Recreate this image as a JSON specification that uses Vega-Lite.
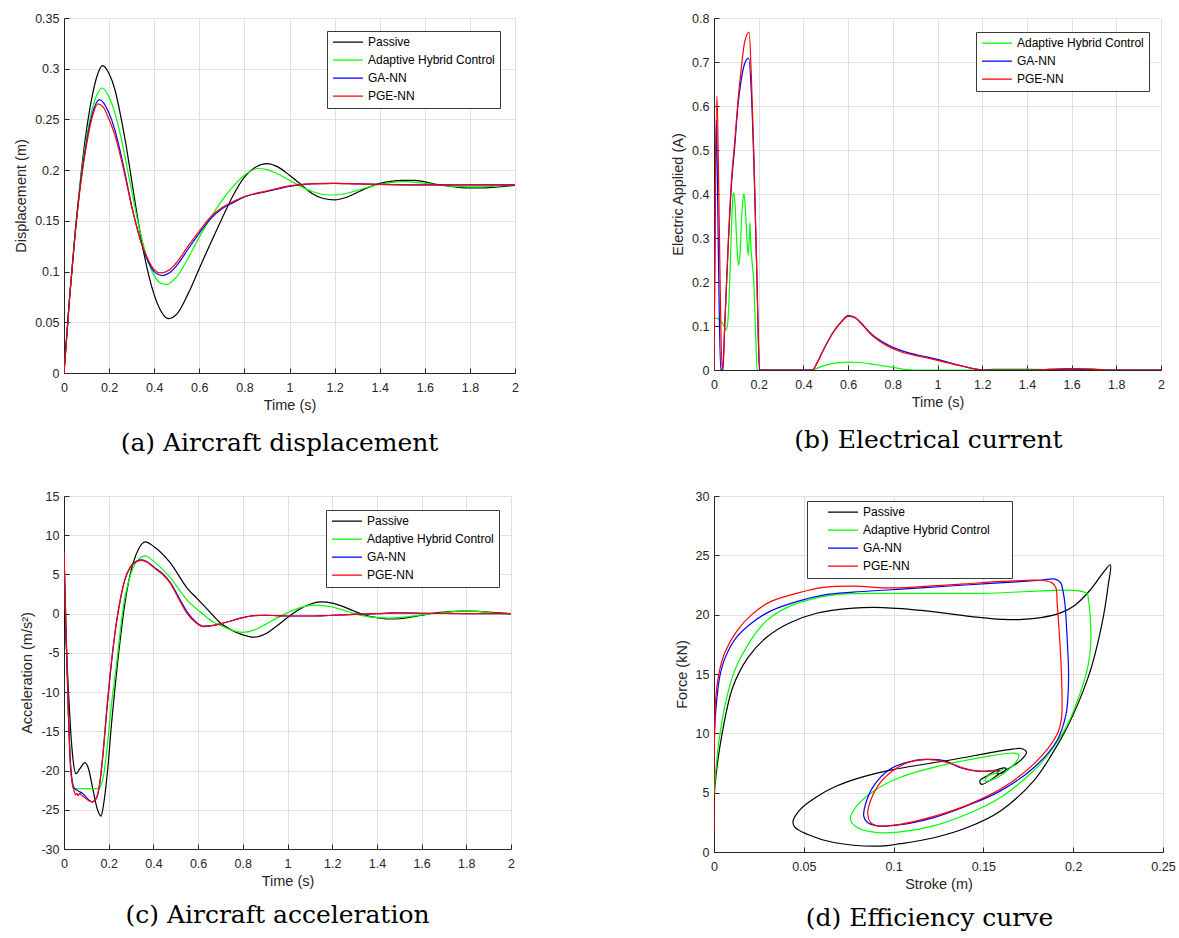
{
"$schema": "https://vega.github.io/schema/vega-lite/v6.json",
"autosize": {"type": "none"},
"padding": {"left": 64, "top": 18, "right": 1115, "bottom": 920},
"background": "white",
"bounds": "flush",
"columns": 2,
"spacing": {"column": 199, "row": 123},
"config": {
  "font": "Liberation Sans",
  "view": {"stroke": null},
  "axis": {"labelFont": "Liberation Sans", "labelFontSize": 12.5, "labelColor": "#262626", "titleFont": "Liberation Sans", "titleFontSize": 14.5, "titleFontWeight": "normal", "titleColor": "#262626", "domainColor": "#262626", "tickColor": "#262626", "tickSize": -5, "gridColor": "#e0e0e0", "grid": true, "labelFlush": false, "labelOverlap": false, "labelExpr": "toString(datum.value)"},
  "axisX": {"labelPadding": 13, "titlePadding": 5},
  "axisY": {"labelPadding": 10, "titlePadding": 6},
  "legend": {"orient": "none", "symbolType": "stroke", "symbolSize": 900, "symbolStrokeWidth": 1.2, "labelFont": "Liberation Sans", "labelFontSize": 12, "labelColor": "#000000", "padding": 5, "rowPadding": 5, "clipHeight": 12.3, "strokeColor": "#3a3a3a", "fillColor": "#ffffff", "labelOffset": 4, "labelLimit": 300},
  "title": {"font": "DejaVu Serif", "fontSize": 25, "fontWeight": "normal", "color": "#000000", "orient": "bottom", "anchor": "middle", "frame": "group", "offset": 12}
},
"resolve": {"scale": {"color": "independent"}, "legend": {"color": "independent"}},
"concat": [
{
  "width": 451, "height": 355,
  "title": {"text": "(a) Aircraft displacement", "dx": -10, "offset": 19, "orient": "bottom", "frame": "group"},
  "data": {"name": "a"},
  "mark": {"type": "line", "interpolate": "monotone", "strokeWidth": 1.2, "clip": true},
  "encoding": {
    "x": {"field": "t", "type": "quantitative", "scale": {"domain": [0, 2], "nice": false, "zero": false}, "axis": {"title": "Time (s)", "values": [0, 0.2, 0.4, 0.6, 0.8, 1, 1.2, 1.4, 1.6, 1.8, 2]}},
    "y": {"field": "v", "type": "quantitative", "scale": {"domain": [0, 0.35], "nice": false}, "axis": {"title": "Displacement (m)", "values": [0, 0.05, 0.1, 0.15, 0.2, 0.25, 0.3, 0.35]}},
    "color": {"field": "s", "type": "nominal", "scale": {"domain": ["Passive", "Adaptive Hybrid Control", "GA-NN", "PGE-NN"], "range": ["#000000", "#00ff00", "#0000ff", "#ff0000"]}, "legend": {"title": null, "legendX": 263, "legendY": 13}},
    "order": {"value": null}
  }
},
{
  "width": 447, "height": 352,
  "title": {"text": "(b) Electrical current", "dx": -9, "offset": 19, "orient": "bottom", "frame": "group"},
  "data": {"name": "b"},
  "mark": {"type": "line", "interpolate": "monotone", "strokeWidth": 1.2, "clip": true},
  "encoding": {
    "x": {"field": "t", "type": "quantitative", "scale": {"domain": [0, 2], "nice": false, "zero": false}, "axis": {"title": "Time (s)", "values": [0, 0.2, 0.4, 0.6, 0.8, 1, 1.2, 1.4, 1.6, 1.8, 2]}},
    "y": {"field": "v", "type": "quantitative", "scale": {"domain": [0, 0.8], "nice": false}, "axis": {"title": "Electric Applied (A)", "values": [0, 0.1, 0.2, 0.3, 0.4, 0.5, 0.6, 0.7, 0.8]}},
    "color": {"field": "s", "type": "nominal", "scale": {"domain": ["Adaptive Hybrid Control", "GA-NN", "PGE-NN"], "range": ["#00ff00", "#0000ff", "#ff0000"]}, "legend": {"title": null, "legendX": 262, "legendY": 14}},
    "order": {"value": null}
  }
},
{
  "width": 447, "height": 353,
  "title": {"text": "(c) Aircraft acceleration", "dx": -10, "offset": 15, "orient": "bottom", "frame": "group"},
  "data": {"name": "c"},
  "mark": {"type": "line", "interpolate": "monotone", "strokeWidth": 1.2, "clip": true},
  "encoding": {
    "x": {"field": "t", "type": "quantitative", "scale": {"domain": [0, 2], "nice": false, "zero": false}, "axis": {"title": "Time (s)", "values": [0, 0.2, 0.4, 0.6, 0.8, 1, 1.2, 1.4, 1.6, 1.8, 2]}},
    "y": {"field": "v", "type": "quantitative", "scale": {"domain": [-30, 15], "nice": false}, "axis": {"title": "Acceleration (m/s²)", "values": [-30, -25, -20, -15, -10, -5, 0, 5, 10, 15]}},
    "color": {"field": "s", "type": "nominal", "scale": {"domain": ["Passive", "Adaptive Hybrid Control", "GA-NN", "PGE-NN"], "range": ["#000000", "#00ff00", "#0000ff", "#ff0000"]}, "legend": {"title": null, "legendX": 262, "legendY": 14}},
    "order": {"value": null}
  }
},
{
  "width": 449, "height": 356,
  "view": {"stroke": "#262626", "strokeWidth": 1},
  "title": {"text": "(d) Efficiency curve", "dx": -9, "offset": 15, "orient": "bottom", "frame": "group"},
  "data": {"name": "d"},
  "mark": {"type": "line", "interpolate": "catmull-rom", "strokeWidth": 1.2, "clip": true},
  "encoding": {
    "x": {"field": "x", "type": "quantitative", "scale": {"domain": [0, 0.25], "nice": false, "zero": false}, "axis": {"title": "Stroke (m)", "values": [0, 0.05, 0.1, 0.15, 0.2, 0.25]}},
    "y": {"field": "y", "type": "quantitative", "scale": {"domain": [0, 30], "nice": false}, "axis": {"title": "Force (kN)", "values": [0, 5, 10, 15, 20, 25, 30]}},
    "color": {"field": "s", "type": "nominal", "scale": {"domain": ["Passive", "Adaptive Hybrid Control", "GA-NN", "PGE-NN"], "range": ["#000000", "#00ff00", "#0000ff", "#ff0000"]}, "legend": {"title": "MM", "titleColor": "#ffffff", "titleOrient": "right", "titleFontSize": 10, "titlePadding": 0, "legendX": 93, "legendY": 5, "symbolOffset": 15}},
    "order": {"value": null}
  }
}
],
"datasets": {
"a": [
{"s":"Passive","t":0,"v":0},{"s":"Passive","t":0.025,"v":0.075},{"s":"Passive","t":0.05,"v":0.14},{"s":"Passive","t":0.075,"v":0.195},{"s":"Passive","t":0.1,"v":0.24},{"s":"Passive","t":0.125,"v":0.273},{"s":"Passive","t":0.15,"v":0.295},{"s":"Passive","t":0.17,"v":0.303},{"s":"Passive","t":0.2,"v":0.295},{"s":"Passive","t":0.225,"v":0.28},{"s":"Passive","t":0.25,"v":0.255},{"s":"Passive","t":0.275,"v":0.225},{"s":"Passive","t":0.3,"v":0.19},{"s":"Passive","t":0.325,"v":0.155},{"s":"Passive","t":0.35,"v":0.123},{"s":"Passive","t":0.375,"v":0.097},{"s":"Passive","t":0.4,"v":0.077},{"s":"Passive","t":0.425,"v":0.063},{"s":"Passive","t":0.45,"v":0.055},{"s":"Passive","t":0.465,"v":0.0536},{"s":"Passive","t":0.5,"v":0.058},{"s":"Passive","t":0.55,"v":0.078},{"s":"Passive","t":0.6,"v":0.103},{"s":"Passive","t":0.65,"v":0.128},{"s":"Passive","t":0.7,"v":0.152},{"s":"Passive","t":0.75,"v":0.175},{"s":"Passive","t":0.8,"v":0.193},{"s":"Passive","t":0.85,"v":0.203},{"s":"Passive","t":0.9,"v":0.2065},{"s":"Passive","t":0.95,"v":0.203},{"s":"Passive","t":1.0,"v":0.195},{"s":"Passive","t":1.05,"v":0.186},{"s":"Passive","t":1.1,"v":0.177},{"s":"Passive","t":1.15,"v":0.172},{"s":"Passive","t":1.2,"v":0.1706},{"s":"Passive","t":1.25,"v":0.173},{"s":"Passive","t":1.3,"v":0.178},{"s":"Passive","t":1.35,"v":0.183},{"s":"Passive","t":1.4,"v":0.187},{"s":"Passive","t":1.45,"v":0.189},{"s":"Passive","t":1.5,"v":0.19},{"s":"Passive","t":1.55,"v":0.19},{"s":"Passive","t":1.6,"v":0.1885},{"s":"Passive","t":1.65,"v":0.186},{"s":"Passive","t":1.7,"v":0.1845},{"s":"Passive","t":1.75,"v":0.183},{"s":"Passive","t":1.8,"v":0.1825},{"s":"Passive","t":1.85,"v":0.1825},{"s":"Passive","t":1.9,"v":0.183},{"s":"Passive","t":1.95,"v":0.184},{"s":"Passive","t":2.0,"v":0.185},
{"s":"Adaptive Hybrid Control","t":0,"v":0},{"s":"Adaptive Hybrid Control","t":0.025,"v":0.075},{"s":"Adaptive Hybrid Control","t":0.05,"v":0.14},{"s":"Adaptive Hybrid Control","t":0.075,"v":0.192},{"s":"Adaptive Hybrid Control","t":0.1,"v":0.232},{"s":"Adaptive Hybrid Control","t":0.125,"v":0.26},{"s":"Adaptive Hybrid Control","t":0.15,"v":0.276},{"s":"Adaptive Hybrid Control","t":0.167,"v":0.281},{"s":"Adaptive Hybrid Control","t":0.2,"v":0.272},{"s":"Adaptive Hybrid Control","t":0.225,"v":0.257},{"s":"Adaptive Hybrid Control","t":0.25,"v":0.235},{"s":"Adaptive Hybrid Control","t":0.275,"v":0.208},{"s":"Adaptive Hybrid Control","t":0.3,"v":0.18},{"s":"Adaptive Hybrid Control","t":0.325,"v":0.152},{"s":"Adaptive Hybrid Control","t":0.35,"v":0.128},{"s":"Adaptive Hybrid Control","t":0.375,"v":0.109},{"s":"Adaptive Hybrid Control","t":0.4,"v":0.096},{"s":"Adaptive Hybrid Control","t":0.425,"v":0.089},{"s":"Adaptive Hybrid Control","t":0.453,"v":0.0873},{"s":"Adaptive Hybrid Control","t":0.5,"v":0.095},{"s":"Adaptive Hybrid Control","t":0.55,"v":0.113},{"s":"Adaptive Hybrid Control","t":0.6,"v":0.134},{"s":"Adaptive Hybrid Control","t":0.65,"v":0.153},{"s":"Adaptive Hybrid Control","t":0.7,"v":0.17},{"s":"Adaptive Hybrid Control","t":0.75,"v":0.184},{"s":"Adaptive Hybrid Control","t":0.8,"v":0.195},{"s":"Adaptive Hybrid Control","t":0.86,"v":0.2016},{"s":"Adaptive Hybrid Control","t":0.9,"v":0.2005},{"s":"Adaptive Hybrid Control","t":0.95,"v":0.196},{"s":"Adaptive Hybrid Control","t":1.0,"v":0.19},{"s":"Adaptive Hybrid Control","t":1.05,"v":0.184},{"s":"Adaptive Hybrid Control","t":1.1,"v":0.179},{"s":"Adaptive Hybrid Control","t":1.18,"v":0.1755},{"s":"Adaptive Hybrid Control","t":1.25,"v":0.177},{"s":"Adaptive Hybrid Control","t":1.3,"v":0.18},{"s":"Adaptive Hybrid Control","t":1.4,"v":0.186},{"s":"Adaptive Hybrid Control","t":1.5,"v":0.1886},{"s":"Adaptive Hybrid Control","t":1.6,"v":0.187},{"s":"Adaptive Hybrid Control","t":1.7,"v":0.1845},{"s":"Adaptive Hybrid Control","t":1.8,"v":0.1835},{"s":"Adaptive Hybrid Control","t":1.9,"v":0.184},{"s":"Adaptive Hybrid Control","t":2.0,"v":0.1855},
{"s":"GA-NN","t":0,"v":0},{"s":"GA-NN","t":0.025,"v":0.075},{"s":"GA-NN","t":0.05,"v":0.139},{"s":"GA-NN","t":0.075,"v":0.19},{"s":"GA-NN","t":0.1,"v":0.228},{"s":"GA-NN","t":0.125,"v":0.255},{"s":"GA-NN","t":0.157,"v":0.2696},{"s":"GA-NN","t":0.2,"v":0.256},{"s":"GA-NN","t":0.225,"v":0.24},{"s":"GA-NN","t":0.25,"v":0.218},{"s":"GA-NN","t":0.275,"v":0.192},{"s":"GA-NN","t":0.3,"v":0.165},{"s":"GA-NN","t":0.325,"v":0.142},{"s":"GA-NN","t":0.35,"v":0.123},{"s":"GA-NN","t":0.375,"v":0.109},{"s":"GA-NN","t":0.4,"v":0.1},{"s":"GA-NN","t":0.437,"v":0.0961},{"s":"GA-NN","t":0.475,"v":0.1},{"s":"GA-NN","t":0.5,"v":0.106},{"s":"GA-NN","t":0.55,"v":0.122},{"s":"GA-NN","t":0.6,"v":0.138},{"s":"GA-NN","t":0.65,"v":0.152},{"s":"GA-NN","t":0.7,"v":0.162},{"s":"GA-NN","t":0.75,"v":0.168},{"s":"GA-NN","t":0.8,"v":0.1735},{"s":"GA-NN","t":0.9,"v":0.179},{"s":"GA-NN","t":1.0,"v":0.184},{"s":"GA-NN","t":1.1,"v":0.1865},{"s":"GA-NN","t":1.2,"v":0.187},{"s":"GA-NN","t":1.3,"v":0.1865},{"s":"GA-NN","t":1.4,"v":0.186},{"s":"GA-NN","t":1.6,"v":0.1855},{"s":"GA-NN","t":1.8,"v":0.1855},{"s":"GA-NN","t":2.0,"v":0.1855},
{"s":"PGE-NN","t":0,"v":0},{"s":"PGE-NN","t":0.025,"v":0.075},{"s":"PGE-NN","t":0.05,"v":0.138},{"s":"PGE-NN","t":0.075,"v":0.188},{"s":"PGE-NN","t":0.1,"v":0.225},{"s":"PGE-NN","t":0.125,"v":0.252},{"s":"PGE-NN","t":0.15,"v":0.2654},{"s":"PGE-NN","t":0.175,"v":0.262},{"s":"PGE-NN","t":0.2,"v":0.25},{"s":"PGE-NN","t":0.225,"v":0.235},{"s":"PGE-NN","t":0.25,"v":0.214},{"s":"PGE-NN","t":0.275,"v":0.19},{"s":"PGE-NN","t":0.3,"v":0.164},{"s":"PGE-NN","t":0.325,"v":0.142},{"s":"PGE-NN","t":0.35,"v":0.124},{"s":"PGE-NN","t":0.375,"v":0.111},{"s":"PGE-NN","t":0.4,"v":0.102},{"s":"PGE-NN","t":0.428,"v":0.0987},{"s":"PGE-NN","t":0.475,"v":0.103},{"s":"PGE-NN","t":0.5,"v":0.109},{"s":"PGE-NN","t":0.55,"v":0.125},{"s":"PGE-NN","t":0.6,"v":0.14},{"s":"PGE-NN","t":0.65,"v":0.154},{"s":"PGE-NN","t":0.7,"v":0.163},{"s":"PGE-NN","t":0.75,"v":0.169},{"s":"PGE-NN","t":0.8,"v":0.174},{"s":"PGE-NN","t":0.9,"v":0.1795},{"s":"PGE-NN","t":1.0,"v":0.1845},{"s":"PGE-NN","t":1.1,"v":0.1867},{"s":"PGE-NN","t":1.2,"v":0.187},{"s":"PGE-NN","t":1.3,"v":0.1865},{"s":"PGE-NN","t":1.4,"v":0.186},{"s":"PGE-NN","t":1.6,"v":0.1855},{"s":"PGE-NN","t":1.8,"v":0.1855},{"s":"PGE-NN","t":2.0,"v":0.1855}
],
"b": [
{"s":"Adaptive Hybrid Control","t":0,"v":0},{"s":"Adaptive Hybrid Control","t":0.001,"v":0.117},{"s":"Adaptive Hybrid Control","t":0.01,"v":0.118},{"s":"Adaptive Hybrid Control","t":0.02,"v":0.116},{"s":"Adaptive Hybrid Control","t":0.035,"v":0.108},{"s":"Adaptive Hybrid Control","t":0.048,"v":0.097},{"s":"Adaptive Hybrid Control","t":0.055,"v":0.091},{"s":"Adaptive Hybrid Control","t":0.062,"v":0.11},{"s":"Adaptive Hybrid Control","t":0.07,"v":0.2},{"s":"Adaptive Hybrid Control","t":0.078,"v":0.32},{"s":"Adaptive Hybrid Control","t":0.084,"v":0.39},{"s":"Adaptive Hybrid Control","t":0.088,"v":0.403},{"s":"Adaptive Hybrid Control","t":0.094,"v":0.38},{"s":"Adaptive Hybrid Control","t":0.1,"v":0.31},{"s":"Adaptive Hybrid Control","t":0.106,"v":0.255},{"s":"Adaptive Hybrid Control","t":0.11,"v":0.238},{"s":"Adaptive Hybrid Control","t":0.116,"v":0.26},{"s":"Adaptive Hybrid Control","t":0.123,"v":0.34},{"s":"Adaptive Hybrid Control","t":0.13,"v":0.39},{"s":"Adaptive Hybrid Control","t":0.134,"v":0.401},{"s":"Adaptive Hybrid Control","t":0.14,"v":0.37},{"s":"Adaptive Hybrid Control","t":0.147,"v":0.3},{"s":"Adaptive Hybrid Control","t":0.154,"v":0.261},{"s":"Adaptive Hybrid Control","t":0.158,"v":0.3},{"s":"Adaptive Hybrid Control","t":0.161,"v":0.335},{"s":"Adaptive Hybrid Control","t":0.164,"v":0.29},{"s":"Adaptive Hybrid Control","t":0.168,"v":0.26},{"s":"Adaptive Hybrid Control","t":0.172,"v":0.235},{"s":"Adaptive Hybrid Control","t":0.178,"v":0.2},{"s":"Adaptive Hybrid Control","t":0.183,"v":0.13},{"s":"Adaptive Hybrid Control","t":0.188,"v":0.06},{"s":"Adaptive Hybrid Control","t":0.193,"v":0},{"s":"Adaptive Hybrid Control","t":0.3,"v":0},{"s":"Adaptive Hybrid Control","t":0.44,"v":0},{"s":"Adaptive Hybrid Control","t":0.47,"v":0.006},{"s":"Adaptive Hybrid Control","t":0.5,"v":0.011},{"s":"Adaptive Hybrid Control","t":0.55,"v":0.016},{"s":"Adaptive Hybrid Control","t":0.6,"v":0.018},{"s":"Adaptive Hybrid Control","t":0.65,"v":0.017},{"s":"Adaptive Hybrid Control","t":0.7,"v":0.014},{"s":"Adaptive Hybrid Control","t":0.75,"v":0.01},{"s":"Adaptive Hybrid Control","t":0.8,"v":0.006},{"s":"Adaptive Hybrid Control","t":0.85,"v":0.0015},{"s":"Adaptive Hybrid Control","t":0.9,"v":0},{"s":"Adaptive Hybrid Control","t":1.2,"v":0},{"s":"Adaptive Hybrid Control","t":1.25,"v":0.002},{"s":"Adaptive Hybrid Control","t":1.4,"v":0.002},{"s":"Adaptive Hybrid Control","t":1.5,"v":0.0005},{"s":"Adaptive Hybrid Control","t":1.6,"v":0.003},{"s":"Adaptive Hybrid Control","t":1.7,"v":0.002},{"s":"Adaptive Hybrid Control","t":1.78,"v":0},{"s":"Adaptive Hybrid Control","t":2,"v":0},
{"s":"GA-NN","t":0,"v":0},{"s":"GA-NN","t":0.005,"v":0.35},{"s":"GA-NN","t":0.0105,"v":0.568},{"s":"GA-NN","t":0.016,"v":0.4},{"s":"GA-NN","t":0.022,"v":0.18},{"s":"GA-NN","t":0.03,"v":0},{"s":"GA-NN","t":0.04,"v":0.002},{"s":"GA-NN","t":0.048,"v":0.1},{"s":"GA-NN","t":0.063,"v":0.276},{"s":"GA-NN","t":0.078,"v":0.42},{"s":"GA-NN","t":0.093,"v":0.51},{"s":"GA-NN","t":0.107,"v":0.6},{"s":"GA-NN","t":0.122,"v":0.66},{"s":"GA-NN","t":0.137,"v":0.696},{"s":"GA-NN","t":0.155,"v":0.709},{"s":"GA-NN","t":0.167,"v":0.632},{"s":"GA-NN","t":0.179,"v":0.458},{"s":"GA-NN","t":0.19,"v":0.254},{"s":"GA-NN","t":0.197,"v":0.1},{"s":"GA-NN","t":0.203,"v":0},{"s":"GA-NN","t":0.3,"v":0},{"s":"GA-NN","t":0.44,"v":0},{"s":"GA-NN","t":0.46,"v":0.015},{"s":"GA-NN","t":0.487,"v":0.043},{"s":"GA-NN","t":0.537,"v":0.089},{"s":"GA-NN","t":0.57,"v":0.11},{"s":"GA-NN","t":0.6,"v":0.1235},{"s":"GA-NN","t":0.63,"v":0.12},{"s":"GA-NN","t":0.654,"v":0.109},{"s":"GA-NN","t":0.704,"v":0.082},{"s":"GA-NN","t":0.771,"v":0.059},{"s":"GA-NN","t":0.838,"v":0.044},{"s":"GA-NN","t":0.921,"v":0.033},{"s":"GA-NN","t":1,"v":0.024},{"s":"GA-NN","t":1.09,"v":0.012},{"s":"GA-NN","t":1.173,"v":0.002},{"s":"GA-NN","t":1.2,"v":0},{"s":"GA-NN","t":1.45,"v":0},{"s":"GA-NN","t":1.6,"v":0.002},{"s":"GA-NN","t":1.75,"v":0},{"s":"GA-NN","t":2,"v":0},
{"s":"PGE-NN","t":0,"v":0},{"s":"PGE-NN","t":0.006,"v":0.4},{"s":"PGE-NN","t":0.0134,"v":0.623},{"s":"PGE-NN","t":0.02,"v":0.45},{"s":"PGE-NN","t":0.028,"v":0.18},{"s":"PGE-NN","t":0.036,"v":0},{"s":"PGE-NN","t":0.041,"v":0.02},{"s":"PGE-NN","t":0.048,"v":0.1},{"s":"PGE-NN","t":0.063,"v":0.28},{"s":"PGE-NN","t":0.078,"v":0.43},{"s":"PGE-NN","t":0.093,"v":0.52},{"s":"PGE-NN","t":0.107,"v":0.61},{"s":"PGE-NN","t":0.122,"v":0.685},{"s":"PGE-NN","t":0.137,"v":0.745},{"s":"PGE-NN","t":0.157,"v":0.768},{"s":"PGE-NN","t":0.167,"v":0.67},{"s":"PGE-NN","t":0.179,"v":0.48},{"s":"PGE-NN","t":0.19,"v":0.254},{"s":"PGE-NN","t":0.197,"v":0.1},{"s":"PGE-NN","t":0.205,"v":0},{"s":"PGE-NN","t":0.3,"v":0},{"s":"PGE-NN","t":0.44,"v":0},{"s":"PGE-NN","t":0.46,"v":0.015},{"s":"PGE-NN","t":0.487,"v":0.043},{"s":"PGE-NN","t":0.537,"v":0.088},{"s":"PGE-NN","t":0.57,"v":0.109},{"s":"PGE-NN","t":0.6,"v":0.122},{"s":"PGE-NN","t":0.63,"v":0.119},{"s":"PGE-NN","t":0.654,"v":0.108},{"s":"PGE-NN","t":0.704,"v":0.08},{"s":"PGE-NN","t":0.771,"v":0.056},{"s":"PGE-NN","t":0.838,"v":0.041},{"s":"PGE-NN","t":0.921,"v":0.031},{"s":"PGE-NN","t":1,"v":0.022},{"s":"PGE-NN","t":1.09,"v":0.011},{"s":"PGE-NN","t":1.173,"v":0.002},{"s":"PGE-NN","t":1.2,"v":0},{"s":"PGE-NN","t":1.45,"v":0},{"s":"PGE-NN","t":1.5,"v":0.002},{"s":"PGE-NN","t":1.6,"v":0.003},{"s":"PGE-NN","t":1.7,"v":0.002},{"s":"PGE-NN","t":1.78,"v":0},{"s":"PGE-NN","t":2,"v":0}
],
"c": [
{"s":"Passive","t":0,"v":0},{"s":"Passive","t":0.01,"v":-4},{"s":"Passive","t":0.02,"v":-10},{"s":"Passive","t":0.03,"v":-15},{"s":"Passive","t":0.04,"v":-18.5},{"s":"Passive","t":0.054,"v":-20.4},{"s":"Passive","t":0.07,"v":-19.8},{"s":"Passive","t":0.094,"v":-19.0},{"s":"Passive","t":0.11,"v":-19.8},{"s":"Passive","t":0.13,"v":-22.5},{"s":"Passive","t":0.15,"v":-25},{"s":"Passive","t":0.166,"v":-25.8},{"s":"Passive","t":0.176,"v":-24.5},{"s":"Passive","t":0.195,"v":-20},{"s":"Passive","t":0.213,"v":-13.9},{"s":"Passive","t":0.228,"v":-9.5},{"s":"Passive","t":0.243,"v":-5.4},{"s":"Passive","t":0.258,"v":-1.8},{"s":"Passive","t":0.273,"v":1.4},{"s":"Passive","t":0.29,"v":4.2},{"s":"Passive","t":0.31,"v":6.5},{"s":"Passive","t":0.335,"v":8.3},{"s":"Passive","t":0.363,"v":9.14},{"s":"Passive","t":0.4,"v":8.6},{"s":"Passive","t":0.475,"v":6.5},{"s":"Passive","t":0.55,"v":3.3},{"s":"Passive","t":0.6,"v":1.8},{"s":"Passive","t":0.65,"v":0.3},{"s":"Passive","t":0.7,"v":-1.2},{"s":"Passive","t":0.75,"v":-2.1},{"s":"Passive","t":0.8,"v":-2.7},{"s":"Passive","t":0.85,"v":-3.0},{"s":"Passive","t":0.9,"v":-2.6},{"s":"Passive","t":0.95,"v":-1.6},{"s":"Passive","t":1.0,"v":-0.5},{"s":"Passive","t":1.05,"v":0.5},{"s":"Passive","t":1.1,"v":1.2},{"s":"Passive","t":1.15,"v":1.5},{"s":"Passive","t":1.2,"v":1.35},{"s":"Passive","t":1.25,"v":0.9},{"s":"Passive","t":1.3,"v":0.3},{"s":"Passive","t":1.35,"v":-0.2},{"s":"Passive","t":1.4,"v":-0.5},{"s":"Passive","t":1.45,"v":-0.68},{"s":"Passive","t":1.5,"v":-0.65},{"s":"Passive","t":1.55,"v":-0.45},{"s":"Passive","t":1.6,"v":-0.2},{"s":"Passive","t":1.65,"v":0.05},{"s":"Passive","t":1.7,"v":0.2},{"s":"Passive","t":1.75,"v":0.3},{"s":"Passive","t":1.8,"v":0.34},{"s":"Passive","t":1.85,"v":0.3},{"s":"Passive","t":1.9,"v":0.2},{"s":"Passive","t":1.95,"v":0.1},{"s":"Passive","t":2.0,"v":0.0},
{"s":"Adaptive Hybrid Control","t":0,"v":7.8},{"s":"Adaptive Hybrid Control","t":0.01,"v":-3},{"s":"Adaptive Hybrid Control","t":0.02,"v":-13},{"s":"Adaptive Hybrid Control","t":0.03,"v":-19.5},{"s":"Adaptive Hybrid Control","t":0.042,"v":-22.3},{"s":"Adaptive Hybrid Control","t":0.154,"v":-22.3},{"s":"Adaptive Hybrid Control","t":0.176,"v":-20.8},{"s":"Adaptive Hybrid Control","t":0.191,"v":-17.5},{"s":"Adaptive Hybrid Control","t":0.213,"v":-11.4},{"s":"Adaptive Hybrid Control","t":0.236,"v":-6.25},{"s":"Adaptive Hybrid Control","t":0.251,"v":-2.4},{"s":"Adaptive Hybrid Control","t":0.266,"v":1.0},{"s":"Adaptive Hybrid Control","t":0.288,"v":4.0},{"s":"Adaptive Hybrid Control","t":0.31,"v":5.9},{"s":"Adaptive Hybrid Control","t":0.333,"v":6.9},{"s":"Adaptive Hybrid Control","t":0.363,"v":7.36},{"s":"Adaptive Hybrid Control","t":0.4,"v":6.7},{"s":"Adaptive Hybrid Control","t":0.475,"v":4.6},{"s":"Adaptive Hybrid Control","t":0.549,"v":1.8},{"s":"Adaptive Hybrid Control","t":0.624,"v":-0.1},{"s":"Adaptive Hybrid Control","t":0.669,"v":-1.1},{"s":"Adaptive Hybrid Control","t":0.7,"v":-1.5},{"s":"Adaptive Hybrid Control","t":0.75,"v":-2.1},{"s":"Adaptive Hybrid Control","t":0.8,"v":-2.38},{"s":"Adaptive Hybrid Control","t":0.85,"v":-2.1},{"s":"Adaptive Hybrid Control","t":0.9,"v":-1.4},{"s":"Adaptive Hybrid Control","t":0.95,"v":-0.6},{"s":"Adaptive Hybrid Control","t":1.0,"v":0.1},{"s":"Adaptive Hybrid Control","t":1.05,"v":0.7},{"s":"Adaptive Hybrid Control","t":1.1,"v":1.05},{"s":"Adaptive Hybrid Control","t":1.13,"v":1.1},{"s":"Adaptive Hybrid Control","t":1.2,"v":0.85},{"s":"Adaptive Hybrid Control","t":1.25,"v":0.45},{"s":"Adaptive Hybrid Control","t":1.3,"v":0.0},{"s":"Adaptive Hybrid Control","t":1.35,"v":-0.35},{"s":"Adaptive Hybrid Control","t":1.4,"v":-0.5},{"s":"Adaptive Hybrid Control","t":1.45,"v":-0.55},{"s":"Adaptive Hybrid Control","t":1.5,"v":-0.5},{"s":"Adaptive Hybrid Control","t":1.55,"v":-0.35},{"s":"Adaptive Hybrid Control","t":1.6,"v":-0.15},{"s":"Adaptive Hybrid Control","t":1.7,"v":0.15},{"s":"Adaptive Hybrid Control","t":1.8,"v":0.35},{"s":"Adaptive Hybrid Control","t":1.85,"v":0.3},{"s":"Adaptive Hybrid Control","t":1.9,"v":0.15},{"s":"Adaptive Hybrid Control","t":2.0,"v":-0.1},
{"s":"GA-NN","t":0,"v":7.8},{"s":"GA-NN","t":0.01,"v":-3},{"s":"GA-NN","t":0.02,"v":-13},{"s":"GA-NN","t":0.03,"v":-19.5},{"s":"GA-NN","t":0.045,"v":-22.2},{"s":"GA-NN","t":0.064,"v":-22.6},{"s":"GA-NN","t":0.087,"v":-23.0},{"s":"GA-NN","t":0.109,"v":-23.7},{"s":"GA-NN","t":0.127,"v":-24.0},{"s":"GA-NN","t":0.146,"v":-23.5},{"s":"GA-NN","t":0.161,"v":-21.5},{"s":"GA-NN","t":0.176,"v":-17.5},{"s":"GA-NN","t":0.191,"v":-12.5},{"s":"GA-NN","t":0.206,"v":-8.0},{"s":"GA-NN","t":0.221,"v":-4.1},{"s":"GA-NN","t":0.236,"v":-0.9},{"s":"GA-NN","t":0.251,"v":1.6},{"s":"GA-NN","t":0.273,"v":4.4},{"s":"GA-NN","t":0.296,"v":5.9},{"s":"GA-NN","t":0.325,"v":6.7},{"s":"GA-NN","t":0.348,"v":6.85},{"s":"GA-NN","t":0.378,"v":6.5},{"s":"GA-NN","t":0.4,"v":6.0},{"s":"GA-NN","t":0.445,"v":5.0},{"s":"GA-NN","t":0.475,"v":4.0},{"s":"GA-NN","t":0.519,"v":1.8},{"s":"GA-NN","t":0.549,"v":0.3},{"s":"GA-NN","t":0.594,"v":-1.15},{"s":"GA-NN","t":0.624,"v":-1.6},{"s":"GA-NN","t":0.669,"v":-1.5},{"s":"GA-NN","t":0.7,"v":-1.3},{"s":"GA-NN","t":0.75,"v":-0.9},{"s":"GA-NN","t":0.8,"v":-0.5},{"s":"GA-NN","t":0.85,"v":-0.25},{"s":"GA-NN","t":0.9,"v":-0.2},{"s":"GA-NN","t":1.0,"v":-0.3},{"s":"GA-NN","t":1.1,"v":-0.3},{"s":"GA-NN","t":1.2,"v":-0.2},{"s":"GA-NN","t":1.3,"v":-0.1},{"s":"GA-NN","t":1.4,"v":0.0},{"s":"GA-NN","t":1.5,"v":0.1},{"s":"GA-NN","t":1.6,"v":0.05},{"s":"GA-NN","t":1.8,"v":0.0},{"s":"GA-NN","t":2.0,"v":0.0},
{"s":"PGE-NN","t":0,"v":7.8},{"s":"PGE-NN","t":0.01,"v":-3},{"s":"PGE-NN","t":0.02,"v":-13},{"s":"PGE-NN","t":0.03,"v":-20},{"s":"PGE-NN","t":0.045,"v":-22.6},{"s":"PGE-NN","t":0.052,"v":-23.1},{"s":"PGE-NN","t":0.058,"v":-22.9},{"s":"PGE-NN","t":0.064,"v":-23.2},{"s":"PGE-NN","t":0.07,"v":-22.9},{"s":"PGE-NN","t":0.077,"v":-23.1},{"s":"PGE-NN","t":0.087,"v":-23.3},{"s":"PGE-NN","t":0.109,"v":-23.8},{"s":"PGE-NN","t":0.127,"v":-24.0},{"s":"PGE-NN","t":0.146,"v":-23.4},{"s":"PGE-NN","t":0.161,"v":-21.3},{"s":"PGE-NN","t":0.176,"v":-17.3},{"s":"PGE-NN","t":0.191,"v":-12.3},{"s":"PGE-NN","t":0.206,"v":-7.8},{"s":"PGE-NN","t":0.221,"v":-4.0},{"s":"PGE-NN","t":0.236,"v":-0.8},{"s":"PGE-NN","t":0.251,"v":1.7},{"s":"PGE-NN","t":0.273,"v":4.4},{"s":"PGE-NN","t":0.296,"v":5.9},{"s":"PGE-NN","t":0.325,"v":6.65},{"s":"PGE-NN","t":0.348,"v":6.8},{"s":"PGE-NN","t":0.378,"v":6.45},{"s":"PGE-NN","t":0.4,"v":5.9},{"s":"PGE-NN","t":0.445,"v":4.9},{"s":"PGE-NN","t":0.475,"v":3.9},{"s":"PGE-NN","t":0.519,"v":1.6},{"s":"PGE-NN","t":0.549,"v":0.1},{"s":"PGE-NN","t":0.594,"v":-1.25},{"s":"PGE-NN","t":0.624,"v":-1.65},{"s":"PGE-NN","t":0.669,"v":-1.5},{"s":"PGE-NN","t":0.7,"v":-1.3},{"s":"PGE-NN","t":0.75,"v":-0.9},{"s":"PGE-NN","t":0.8,"v":-0.5},{"s":"PGE-NN","t":0.85,"v":-0.25},{"s":"PGE-NN","t":0.9,"v":-0.2},{"s":"PGE-NN","t":1.0,"v":-0.3},{"s":"PGE-NN","t":1.1,"v":-0.3},{"s":"PGE-NN","t":1.2,"v":-0.2},{"s":"PGE-NN","t":1.3,"v":-0.1},{"s":"PGE-NN","t":1.4,"v":0.0},{"s":"PGE-NN","t":1.5,"v":0.1},{"s":"PGE-NN","t":1.6,"v":0.05},{"s":"PGE-NN","t":1.8,"v":0.0},{"s":"PGE-NN","t":2.0,"v":0.0}
],
"d": [
{"s":"Passive","x":0,"y":3.5},{"s":"Passive","x":0.0005,"y":5.5},{"s":"Passive","x":0.0042,"y":9.7},{"s":"Passive","x":0.0105,"y":13.9},{"s":"Passive","x":0.019,"y":16.4},{"s":"Passive","x":0.0293,"y":18.1},{"s":"Passive","x":0.042,"y":19.3},{"s":"Passive","x":0.0566,"y":20.1},{"s":"Passive","x":0.0775,"y":20.55},{"s":"Passive","x":0.094,"y":20.6},{"s":"Passive","x":0.1194,"y":20.3},{"s":"Passive","x":0.14,"y":19.9},{"s":"Passive","x":0.161,"y":19.6},{"s":"Passive","x":0.172,"y":19.6},{"s":"Passive","x":0.182,"y":19.75},{"s":"Passive","x":0.193,"y":20.15},{"s":"Passive","x":0.201,"y":20.8},{"s":"Passive","x":0.2096,"y":22.1},{"s":"Passive","x":0.2165,"y":23.5},{"s":"Passive","x":0.2207,"y":24.2},{"s":"Passive","x":0.2195,"y":22.5},{"s":"Passive","x":0.217,"y":20.0},{"s":"Passive","x":0.2135,"y":17.5},{"s":"Passive","x":0.2096,"y":15.3},{"s":"Passive","x":0.2035,"y":12.8},{"s":"Passive","x":0.1966,"y":10.5},{"s":"Passive","x":0.188,"y":8.2},{"s":"Passive","x":0.178,"y":6.0},{"s":"Passive","x":0.1595,"y":3.46},{"s":"Passive","x":0.141,"y":2.06},{"s":"Passive","x":0.1224,"y":1.2},{"s":"Passive","x":0.1038,"y":0.7},{"s":"Passive","x":0.0927,"y":0.5},{"s":"Passive","x":0.0667,"y":0.8},{"s":"Passive","x":0.0519,"y":1.5},{"s":"Passive","x":0.045,"y":2.1},{"s":"Passive","x":0.044,"y":2.6},{"s":"Passive","x":0.0481,"y":3.6},{"s":"Passive","x":0.0566,"y":4.6},{"s":"Passive","x":0.0667,"y":5.45},{"s":"Passive","x":0.08,"y":6.2},{"s":"Passive","x":0.0982,"y":6.9},{"s":"Passive","x":0.1316,"y":7.75},{"s":"Passive","x":0.1632,"y":8.6},{"s":"Passive","x":0.1715,"y":8.7},{"s":"Passive","x":0.174,"y":8.4},{"s":"Passive","x":0.1706,"y":7.7},{"s":"Passive","x":0.159,"y":6.6},{"s":"Passive","x":0.149,"y":5.7},{"s":"Passive","x":0.148,"y":6.0},{"s":"Passive","x":0.152,"y":6.4},{"s":"Passive","x":0.159,"y":7.0},{"s":"Passive","x":0.1626,"y":7.04},{"s":"Passive","x":0.161,"y":6.7},{"s":"Passive","x":0.1576,"y":6.6},{"s":"Passive","x":0.158,"y":6.85},
{"s":"Adaptive Hybrid Control","x":0,"y":4.8},{"s":"Adaptive Hybrid Control","x":0.001,"y":6.9},{"s":"Adaptive Hybrid Control","x":0.0031,"y":9.7},{"s":"Adaptive Hybrid Control","x":0.0063,"y":12.5},{"s":"Adaptive Hybrid Control","x":0.0115,"y":15.3},{"s":"Adaptive Hybrid Control","x":0.019,"y":17.5},{"s":"Adaptive Hybrid Control","x":0.0293,"y":19.5},{"s":"Adaptive Hybrid Control","x":0.042,"y":20.7},{"s":"Adaptive Hybrid Control","x":0.0566,"y":21.4},{"s":"Adaptive Hybrid Control","x":0.0733,"y":21.75},{"s":"Adaptive Hybrid Control","x":0.0985,"y":21.8},{"s":"Adaptive Hybrid Control","x":0.15,"y":21.8},{"s":"Adaptive Hybrid Control","x":0.2075,"y":21.8},{"s":"Adaptive Hybrid Control","x":0.2085,"y":21.2},{"s":"Adaptive Hybrid Control","x":0.2093,"y":20.2},{"s":"Adaptive Hybrid Control","x":0.2098,"y":18.8},{"s":"Adaptive Hybrid Control","x":0.2097,"y":17.3},{"s":"Adaptive Hybrid Control","x":0.2088,"y":16.2},{"s":"Adaptive Hybrid Control","x":0.2077,"y":15.3},{"s":"Adaptive Hybrid Control","x":0.2025,"y":12.8},{"s":"Adaptive Hybrid Control","x":0.196,"y":10.5},{"s":"Adaptive Hybrid Control","x":0.187,"y":8.4},{"s":"Adaptive Hybrid Control","x":0.178,"y":6.85},{"s":"Adaptive Hybrid Control","x":0.1595,"y":4.6},{"s":"Adaptive Hybrid Control","x":0.141,"y":3.2},{"s":"Adaptive Hybrid Control","x":0.1224,"y":2.2},{"s":"Adaptive Hybrid Control","x":0.1038,"y":1.7},{"s":"Adaptive Hybrid Control","x":0.0908,"y":1.63},{"s":"Adaptive Hybrid Control","x":0.0797,"y":2.06},{"s":"Adaptive Hybrid Control","x":0.076,"y":2.76},{"s":"Adaptive Hybrid Control","x":0.0788,"y":3.75},{"s":"Adaptive Hybrid Control","x":0.089,"y":5.15},{"s":"Adaptive Hybrid Control","x":0.1038,"y":6.3},{"s":"Adaptive Hybrid Control","x":0.126,"y":7.27},{"s":"Adaptive Hybrid Control","x":0.15,"y":8.0},{"s":"Adaptive Hybrid Control","x":0.1669,"y":8.34},{"s":"Adaptive Hybrid Control","x":0.1697,"y":8.2},{"s":"Adaptive Hybrid Control","x":0.1687,"y":7.7},{"s":"Adaptive Hybrid Control","x":0.1632,"y":6.85},{"s":"Adaptive Hybrid Control","x":0.1557,"y":6.14},{"s":"Adaptive Hybrid Control","x":0.151,"y":6.0},{"s":"Adaptive Hybrid Control","x":0.152,"y":6.34},{"s":"Adaptive Hybrid Control","x":0.1576,"y":6.7},{"s":"Adaptive Hybrid Control","x":0.161,"y":6.96},{"s":"Adaptive Hybrid Control","x":0.159,"y":6.8},
{"s":"GA-NN","x":0,"y":7.1},{"s":"GA-NN","x":0.0004,"y":10.5},{"s":"GA-NN","x":0.001,"y":11.9},{"s":"GA-NN","x":0.0031,"y":14.7},{"s":"GA-NN","x":0.0063,"y":16.4},{"s":"GA-NN","x":0.0126,"y":18.1},{"s":"GA-NN","x":0.021,"y":19.3},{"s":"GA-NN","x":0.0314,"y":20.3},{"s":"GA-NN","x":0.046,"y":21.1},{"s":"GA-NN","x":0.0608,"y":21.65},{"s":"GA-NN","x":0.0775,"y":21.9},{"s":"GA-NN","x":0.0985,"y":22.1},{"s":"GA-NN","x":0.1194,"y":22.3},{"s":"GA-NN","x":0.14,"y":22.5},{"s":"GA-NN","x":0.161,"y":22.7},{"s":"GA-NN","x":0.182,"y":22.9},{"s":"GA-NN","x":0.19,"y":23.0},{"s":"GA-NN","x":0.193,"y":22.7},{"s":"GA-NN","x":0.1943,"y":22.0},{"s":"GA-NN","x":0.1954,"y":20.9},{"s":"GA-NN","x":0.1966,"y":18.1},{"s":"GA-NN","x":0.1974,"y":15.3},{"s":"GA-NN","x":0.1972,"y":13.5},{"s":"GA-NN","x":0.196,"y":11.6},{"s":"GA-NN","x":0.191,"y":9.4},{"s":"GA-NN","x":0.178,"y":7.1},{"s":"GA-NN","x":0.1595,"y":5.15},{"s":"GA-NN","x":0.141,"y":3.9},{"s":"GA-NN","x":0.1224,"y":2.9},{"s":"GA-NN","x":0.1038,"y":2.3},{"s":"GA-NN","x":0.091,"y":2.2},{"s":"GA-NN","x":0.0853,"y":2.5},{"s":"GA-NN","x":0.0834,"y":3.0},{"s":"GA-NN","x":0.0843,"y":4.0},{"s":"GA-NN","x":0.089,"y":5.6},{"s":"GA-NN","x":0.0982,"y":7.0},{"s":"GA-NN","x":0.1075,"y":7.55},{"s":"GA-NN","x":0.1186,"y":7.8},{"s":"GA-NN","x":0.128,"y":7.7},{"s":"GA-NN","x":0.1372,"y":7.1},{"s":"GA-NN","x":0.1446,"y":6.85},{"s":"GA-NN","x":0.15,"y":6.8},{"s":"GA-NN","x":0.1548,"y":6.85},{"s":"GA-NN","x":0.1576,"y":6.9},{"s":"GA-NN","x":0.159,"y":6.8},
{"s":"PGE-NN","x":0,"y":1.8},{"s":"PGE-NN","x":0,"y":6},{"s":"PGE-NN","x":0.0003,"y":10},{"s":"PGE-NN","x":0.001,"y":13.0},{"s":"PGE-NN","x":0.0031,"y":15.3},{"s":"PGE-NN","x":0.0063,"y":16.9},{"s":"PGE-NN","x":0.0126,"y":18.6},{"s":"PGE-NN","x":0.021,"y":20.0},{"s":"PGE-NN","x":0.0314,"y":21.1},{"s":"PGE-NN","x":0.046,"y":21.8},{"s":"PGE-NN","x":0.0608,"y":22.3},{"s":"PGE-NN","x":0.0775,"y":22.4},{"s":"PGE-NN","x":0.0985,"y":22.25},{"s":"PGE-NN","x":0.1194,"y":22.4},{"s":"PGE-NN","x":0.14,"y":22.6},{"s":"PGE-NN","x":0.161,"y":22.8},{"s":"PGE-NN","x":0.182,"y":22.9},{"s":"PGE-NN","x":0.188,"y":22.7},{"s":"PGE-NN","x":0.1903,"y":22.3},{"s":"PGE-NN","x":0.1911,"y":20.9},{"s":"PGE-NN","x":0.1924,"y":18.1},{"s":"PGE-NN","x":0.1934,"y":15.3},{"s":"PGE-NN","x":0.1938,"y":12.5},{"s":"PGE-NN","x":0.1935,"y":11.3},{"s":"PGE-NN","x":0.191,"y":9.9},{"s":"PGE-NN","x":0.178,"y":7.4},{"s":"PGE-NN","x":0.1595,"y":5.3},{"s":"PGE-NN","x":0.141,"y":3.95},{"s":"PGE-NN","x":0.1224,"y":3.0},{"s":"PGE-NN","x":0.1038,"y":2.34},{"s":"PGE-NN","x":0.0908,"y":2.2},{"s":"PGE-NN","x":0.0871,"y":2.5},{"s":"PGE-NN","x":0.0856,"y":3.2},{"s":"PGE-NN","x":0.0871,"y":4.3},{"s":"PGE-NN","x":0.0927,"y":5.86},{"s":"PGE-NN","x":0.102,"y":7.1},{"s":"PGE-NN","x":0.1112,"y":7.7},{"s":"PGE-NN","x":0.1186,"y":7.8},{"s":"PGE-NN","x":0.1298,"y":7.55},{"s":"PGE-NN","x":0.139,"y":7.07},{"s":"PGE-NN","x":0.1446,"y":6.85},{"s":"PGE-NN","x":0.152,"y":6.8},{"s":"PGE-NN","x":0.1567,"y":6.85},{"s":"PGE-NN","x":0.159,"y":6.8}
]
}
}
